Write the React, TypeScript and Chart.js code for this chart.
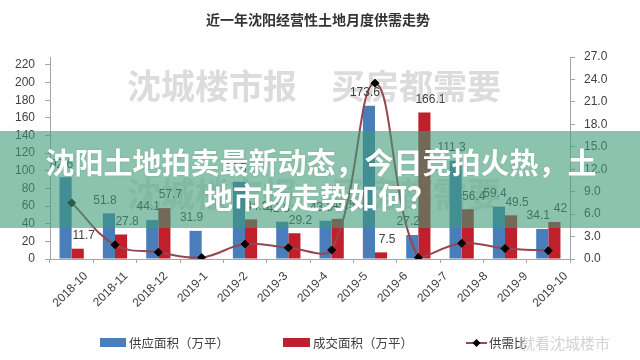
import React, { useEffect, useRef } from "react";
import { Chart, registerables } from "chart.js";

Chart.register(...registerables);

const months = ["2018-10","2018-11","2018-12","2019-1","2019-2","2019-3","2019-4","2019-5","2019-6","2019-7","2019-8","2019-9"];
const axisLabels = ["2018-10","2018-11","2018-12","2019-1","2019-2","2019-3","2019-4","2019-5","2019-6","2019-7","2019-8","2019-9","2019-10"];
const supply = [92.6, 51.8, 44.1, 31.9, 87.5, 42.3, 43.3, 173.6, 27.2, 111.3, 59.4, 34.1];
const deal = [11.7, 27.8, 57.7, 0, 44.9, 29.2, 45.5, 7.5, 166.1, 56.4, 49.5, 42];
const ratio = [7.5, 1.9, 0.9, 0.2, 2.0, 1.5, 1.2, 23.5, 0.2, 2.1, 1.4, 1.1];
const leftTicks = [0, 20, 40, 60, 80, 100, 120, 140, 160, 180, 200, 220];

const title = "近一年沈阳经营性土地月度供需走势";
const bannerLines = ["沈阳土地拍卖最新动态，今日竞拍火热，土", "地市场走势如何？"];
const watermark = ["沈城楼市报", "买房都需要"];
const weiboMark = "就看沈城楼市";
const seriesNames = ["供应面积（万平）", "成交面积（万平）", "供需比"];

const BLUE = "#4A7EBB";
const RED = "#C0202B";
const LINE = "#964650";
const AXIS = "#A6A6A6";
const TXT = "#404040";
const CJK = '"Noto Sans CJK SC", "Noto Sans", sans-serif';
const NUM = '"Liberation Sans", Arial, sans-serif';

export default function App() {
  const ref = useRef<HTMLCanvasElement | null>(null);

  useEffect(() => {
    document.body.style.margin = "0";
    const canvas = ref.current!;

    const watermarkPlugin = {
      id: "watermarkBg",
      beforeDatasetsDraw(chart: any) {
        const ctx = chart.ctx;
        ctx.save();
        ctx.font = `bold 34px ${CJK}`;
        ctx.textAlign = "center";
        ctx.textBaseline = "middle";
        ctx.fillStyle = "#dcdcdc";
        ctx.fillText(watermark[0], 212, 86);
        ctx.fillText(watermark[1], 416, 86);
        ctx.fillStyle = "#e6e6e6";
        ctx.fillText(watermark[0], 212, 194);
        ctx.fillText(watermark[1], 416, 194);
        ctx.restore();
      },
    };

    const labelPlugin = {
      id: "barLabels",
      afterDatasetsDraw(chart: any) {
        const ctx = chart.ctx;
        ctx.save();
        ctx.font = `12px ${NUM}`;
        ctx.fillStyle = TXT;
        ctx.textAlign = "center";
        ctx.textBaseline = "middle";
        [1, 2].forEach((di) => {
          const meta = chart.getDatasetMeta(di);
          const vals = chart.data.datasets[di].data as number[];
          meta.data.forEach((el: any, i: number) => {
            const v = vals[i];
            if (!v) return;
            const nudge = di === 1 ? -4 : 6;
            ctx.fillText(String(v), el.x + nudge, el.y - 13);
          });
        });
        ctx.restore();
      },
    };

    const overlayPlugin = {
      id: "overlay",
      afterDraw(chart: any) {
        const ctx = chart.ctx;
        ctx.save();
        // title
        ctx.font = `bold 14px ${CJK}`;
        ctx.fillStyle = "#333333";
        ctx.textAlign = "center";
        ctx.textBaseline = "middle";
        ctx.fillText(title, 318, 20);

        // legend
        ctx.font = `12.5px ${CJK}`;
        ctx.textAlign = "left";
        ctx.fillStyle = BLUE;
        ctx.fillRect(100, 338, 26, 9);
        ctx.fillStyle = TXT;
        ctx.fillText(seriesNames[0], 129, 343);
        ctx.fillStyle = RED;
        ctx.fillRect(283, 338, 27, 9);
        ctx.fillStyle = TXT;
        ctx.fillText(seriesNames[1], 313, 343);
        ctx.strokeStyle = LINE;
        ctx.lineWidth = 2;
        ctx.beginPath();
        ctx.moveTo(466, 343);
        ctx.lineTo(487, 343);
        ctx.stroke();
        ctx.fillStyle = "#000";
        ctx.beginPath();
        ctx.moveTo(476.5, 339);
        ctx.lineTo(480.5, 343);
        ctx.lineTo(476.5, 347);
        ctx.lineTo(472.5, 343);
        ctx.closePath();
        ctx.fill();
        ctx.fillStyle = TXT;
        ctx.fillText(seriesNames[2], 489, 343);
        ctx.font = `15px ${CJK}`;
        ctx.fillStyle = "rgba(205,205,205,0.9)";
        ctx.fillText(weiboMark, 520, 343);

        // banner
        ctx.fillStyle = "rgba(62,155,120,0.6)";
        ctx.fillRect(0, 131, 640, 97);
        ctx.font = `bold 29px ${CJK}`;
        ctx.textAlign = "center";
        ctx.fillStyle = "#ffffff";
        ctx.shadowColor = "rgba(0,0,0,0.15)";
        ctx.shadowBlur = 2;
        ctx.fillText(bannerLines[0], 321, 163);
        ctx.fillText(bannerLines[1], 320, 198);
        ctx.restore();
      },
    };

    const tickFont = { family: NUM, size: 12 };

    const chart = new Chart(canvas, {
      type: "bar",
      data: {
        labels: months,
        datasets: [
          {
            type: "line",
            label: seriesNames[2],
            data: ratio,
            xAxisID: "x",
            yAxisID: "y1",
            order: 0,
            borderColor: LINE,
            borderWidth: 2,
            tension: 0.4,
            pointStyle: "rectRot",
            pointRadius: 4,
            pointBackgroundColor: "#000",
            pointBorderColor: "#000",
            pointBorderWidth: 1,
          } as any,
          {
            type: "bar",
            label: seriesNames[0],
            data: supply,
            xAxisID: "x",
            yAxisID: "y",
            order: 1,
            backgroundColor: BLUE,
            categoryPercentage: 0.56,
            barPercentage: 1,
          },
          {
            type: "bar",
            label: seriesNames[1],
            data: deal,
            xAxisID: "x",
            yAxisID: "y",
            order: 1,
            backgroundColor: RED,
            categoryPercentage: 0.56,
            barPercentage: 1,
          },
        ],
      },
      options: {
        responsive: false,
        animation: false,
        layout: { padding: { top: 57, bottom: 0, left: 0, right: 0 } },
        plugins: { legend: { display: false }, tooltip: { enabled: false } },
        scales: {
          x: {
            type: "category",
            position: "bottom",
            offset: true,
            grid: { offset: true, drawOnChartArea: false, drawTicks: true, tickLength: 4, color: AXIS },
            border: { color: AXIS },
            ticks: { display: false },
            afterFit(s: any) { s.height = 6; },
          },
          x2: {
            type: "category",
            labels: axisLabels,
            position: "bottom",
            offset: true,
            grid: { display: false, drawTicks: false },
            border: { display: false },
            ticks: {
              autoSkip: false,
              maxRotation: 45,
              minRotation: 45,
              labelOffset: 16,
              padding: 4,
              font: tickFont,
              color: TXT,
            },
            afterFit(s: any) { s.height = 95; },
          } as any,
          y: {
            position: "left",
            min: 0,
            max: 229,
            ticks: { stepSize: 20, font: tickFont, color: TXT, padding: 10 },
            afterBuildTicks(s: any) { s.ticks = leftTicks.map((v) => ({ value: v })); },
            afterFit(s: any) { s.width = 50; },
            grid: { drawOnChartArea: false, tickLength: 5, color: AXIS },
            border: { color: AXIS },
          },
          y1: {
            position: "right",
            min: 0,
            max: 27,
            ticks: { stepSize: 3, font: tickFont, color: TXT, padding: 9, callback: (v: any) => Number(v).toFixed(1) },
            afterFit(s: any) { s.width = 70; },
            grid: { drawOnChartArea: false, tickLength: 5, color: AXIS },
            border: { color: AXIS },
          },
        },
      },
      plugins: [watermarkPlugin, labelPlugin, overlayPlugin],
    });

    return () => chart.destroy();
  }, []);

  return (
    <div style={{ width: 640, height: 360, background: "#fff" }}>
      <canvas ref={ref} width={640} height={360} style={{ display: "block" }} />
    </div>
  );
}
